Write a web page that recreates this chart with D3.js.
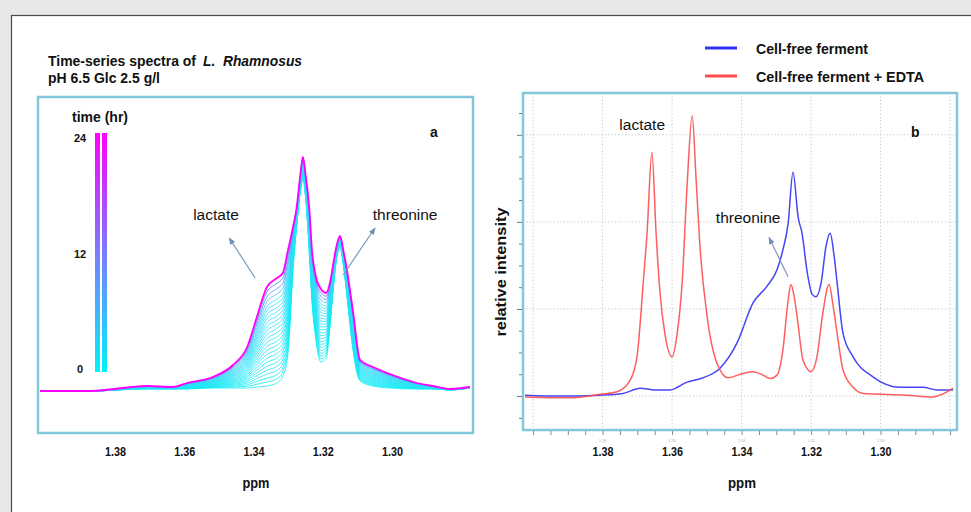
<!DOCTYPE html>
<html>
<head>
<meta charset="utf-8">
<script src="https://cdn.jsdelivr.net/npm/d3@7"></script>
<style>
    body { margin: 0; background: #e6e7e9; }
    svg { display: block; }
    text {
        font-family: "Liberation Sans", Arial, sans-serif;
        fill: #111;
    }
</style>
</head>
<body>
<svg id="chart" width="971" height="512"></svg>
<script>

// ---- panel a: time series (ppm grid shared by every time point) ----
let leftPpm = [1.4016, 1.3872, 1.3707, 1.3632, 1.3592, 1.3517, 1.3459, 1.3418,
               1.3390, 1.3361, 1.3332, 1.3315, 1.3300, 1.3285, 1.3275, 1.3265,
               1.3257, 1.3249, 1.3239, 1.3231, 1.3220, 1.3205, 1.3190, 1.3178,
               1.3170, 1.3160, 1.3150, 1.3140, 1.3130, 1.3113, 1.3092, 1.3055,
               1.3006, 1.2928, 1.2882, 1.2833, 1.2775];

// spectrum at 0 h (lowest cyan trace)
let spectrum0h = [0, 0, 0.02, 0.02, 0.02, 0.03, 0.03, 0.03,
                  0.04, 0.05, 0.08, 0.15, 0.38, 1.25, 1.65, 1.98,
                  2.12, 1.92, 1.40, 0.90, 0.52, 0.29, 0.33, 0.68,
                  1.00, 1.32, 1.44, 1.25, 0.95, 0.42, 0.10, 0.05,
                  0.03, 0.02, 0.02, 0.01, 0.03];

// spectrum at 24 h (magenta trace on top)
let spectrum24h = [0, 0, 0.05, 0.04, 0.08, 0.14, 0.26, 0.44,
                   0.74, 1.04, 1.13, 1.18, 1.41, 1.65, 1.84, 2.15,
                   2.34, 2.15, 1.84, 1.41, 1.15, 1.02, 0.98, 1.10,
                   1.26, 1.45, 1.55, 1.40, 1.21, 0.81, 0.31, 0.24,
                   0.17, 0.08, 0.05, 0.02, 0.04];

// sampling hours and how far each trace has grown from 0 h to 24 h
let hours = [0, 1, 2, 3, 4, 5, 6, 7, 8, 9, 10, 11, 12,
             13, 14, 15, 16, 17, 18, 19, 20, 21, 22, 23, 24];
let growthLevel = [0, 0.04, 0.08, 0.12, 0.16, 0.20, 0.24, 0.28, 0.32, 0.36,
                   0.40, 0.44, 0.48, 0.52, 0.56, 0.60, 0.64, 0.68, 0.72,
                   0.76, 0.80, 0.85, 0.90, 0.95, 1.00];

let leftTicks = [1.38, 1.36, 1.34, 1.32, 1.30];
let timeTicks = [0, 12, 24];

// ---- panel b: cell-free ferment with and without EDTA ----
let bluePpm = [1.4023, 1.3922, 1.3807, 1.3741, 1.3692, 1.3649, 1.3606, 1.3557,
               1.3511, 1.3462, 1.3413, 1.3367, 1.3327, 1.3298, 1.3281, 1.3266,
               1.3252, 1.3237, 1.3226, 1.3211, 1.3197, 1.3186, 1.3171, 1.3157,
               1.3145, 1.3134, 1.3125, 1.3108, 1.3079, 1.3022, 1.2944, 1.2878,
               1.2837, 1.2791];
let blueIntensity = [0.01, 0.0, 0.01, 0.03, 0.09, 0.07, 0.07, 0.16,
                     0.21, 0.32, 0.61, 1.07, 1.26, 1.45, 1.68, 1.98,
                     2.57, 2.05, 1.87, 1.42, 1.17, 1.14, 1.30, 1.72,
                     1.87, 1.62, 1.30, 0.72, 0.45, 0.22, 0.10, 0.10,
                     0.07, 0.07];

let redPpm = [1.4023, 1.3894, 1.3807, 1.3758, 1.3721, 1.3701, 1.3683, 1.3672,
              1.3658, 1.3646, 1.3635, 1.3620, 1.3600, 1.3586, 1.3571, 1.3557,
              1.3542, 1.3531, 1.3519, 1.3499, 1.3471, 1.3439, 1.3396, 1.3367,
              1.3338, 1.3318, 1.3298, 1.3281, 1.3266, 1.3258, 1.3249, 1.3240,
              1.3223, 1.3200, 1.3183, 1.3168, 1.3148, 1.3137, 1.3125, 1.3108,
              1.3079, 1.3050, 1.2924, 1.2849, 1.2791];
let redIntensity = [-0.01, -0.02, 0.02, 0.05, 0.18, 0.45, 1.30, 1.87,
                    2.80, 1.87, 1.20, 0.70, 0.45, 0.70, 1.30, 2.40,
                    3.22, 2.50, 1.68, 0.91, 0.38, 0.21, 0.26, 0.28,
                    0.24, 0.20, 0.24, 0.53, 1.10, 1.28, 1.15, 0.91,
                    0.41, 0.28, 0.45, 0.90, 1.28, 1.05, 0.72, 0.30,
                    0.10, 0.03, 0.01, -0.01, 0.09];

let rightTicks = [1.38, 1.36, 1.34, 1.32, 1.30];
let rightGridX = [1.40, 1.38, 1.36, 1.34, 1.32, 1.30, 1.28];
let rightGridY = [0, 1, 2, 3];
let rightMinorY = [-0.25, 0, 0.25, 0.5, 0.75, 1, 1.25, 1.5, 1.75, 2,
                   2.25, 2.5, 2.75, 3, 3.25];

let seriesNames = ["Cell-free ferment", "Cell-free ferment + EDTA"];
let seriesColors = ["#3232f5", "#ff4c4c"];


window.onload = function() {
    main();
};


/**
 * Draws the card, both panels and their labels.
 */
function main() {
    let svg = d3.select("#chart");

    // white card with a thin dark frame
    svg.append("rect")
       .attr("x", 11.5)
       .attr("y", 15.5)
       .attr("width", 980)
       .attr("height", 520)
       .attr("fill", "#ffffff")
       .attr("stroke", "#4a4a4a")
       .attr("stroke-width", 1.2);

    // arrow head used by the annotations
    svg.append("defs")
       .append("marker")
       .attr("id", "arrow")
       .attr("viewBox", "0 0 10 10")
       .attr("refX", 9)
       .attr("refY", 5)
       .attr("markerWidth", 6)
       .attr("markerHeight", 6)
       .attr("orient", "auto")
       .append("path")
       .attr("d", "M0,1 L10,5 L0,9 Z")
       .attr("fill", "#6f8fb8");

    makeLeftPanel(svg);
    makeRightPanel(svg);
}


/**
 * Adds a text element; a given length squeezes the bold labels like the
 * narrow font of the original.
 */
function addText(g, x, y, str, size, weight, anchor, len) {
    let t = g.append("text")
             .attr("x", x)
             .attr("y", y)
             .attr("font-size", size)
             .attr("font-weight", weight)
             .attr("text-anchor", anchor || "start")
             .text(str);
    if (len) {
        t.attr("textLength", len)
         .attr("lengthAdjust", "spacingAndGlyphs");
    }
    return t;
}


/**
 * Adds an arrow from one data point to another.
 */
function addArrow(g, x, y, from, to) {
    g.append("line")
     .attr("x1", x(from[0]))
     .attr("y1", y(from[1]))
     .attr("x2", x(to[0]))
     .attr("y2", y(to[1]))
     .attr("stroke", "#7b98bd")
     .attr("stroke-width", 1.2)
     .attr("marker-end", "url(#arrow)");
}


/**
 * Panel a: time-series spectra with a time colour bar.
 */
function makeLeftPanel(svg) {
    let box = {left: 38, right: 473, top: 97, bottom: 433};

    let x = d3.scaleLinear()
              .domain([1.4022, 1.2766])
              .range([box.left, box.right]);
    let y = d3.scaleLinear()
              .domain([-0.42, 2.94])
              .range([box.bottom, box.top]);

    // title, the species name in italics
    addText(svg, 48, 66, "Time-series spectra of", 15, "bold", "start", 148);
    addText(svg, 203, 66, "L.\u00a0\u00a0Rhamnosus", 15, "bold", "start", 99)
        .attr("font-style", "italic");
    addText(svg, 48, 83, "pH 6.5 Glc 2.5 g/l", 15, "bold", "start", 112);

    svg.append("rect")
       .attr("x", box.left)
       .attr("y", box.top)
       .attr("width", box.right - box.left)
       .attr("height", box.bottom - box.top)
       .attr("fill", "#ffffff");

    svg.append("clipPath")
       .attr("id", "clip-a")
       .append("rect")
       .attr("x", box.left)
       .attr("y", box.top)
       .attr("width", box.right - box.left)
       .attr("height", box.bottom - box.top);

    // colour of each trace: cyan for most hours, blue then magenta at the end
    let traceColor = d3.scaleLinear()
                       .domain([0, 20, 23, 24])
                       .range(["#10eef4", "#30dcf8", "#4a78ff", "#ff00ff"]);

    let line = d3.line()
                 .x(function(d) { return x(d[0]); })
                 .y(function(d) { return y(d[1]); })
                 .curve(d3.curveMonotoneX);

    let traces = hours.map(function(h, i) {
        let pts = leftPpm.map(function(p, j) {
            return [p, spectrum0h[j] + growthLevel[i] * (spectrum24h[j] - spectrum0h[j])];
        });
        return {hour: h, points: pts};
    });

    svg.append("g")
       .attr("clip-path", "url(#clip-a)")
       .selectAll("path")
       .data(traces)
       .enter()
       .append("path")
       .attr("d", function(d) { return line(d.points); })
       .attr("fill", "none")
       .attr("stroke", function(d) { return traceColor(d.hour); })
       .attr("stroke-width", function(d) { return d.hour === 24 ? 1.8 : 1; })
       .attr("opacity", function(d) { return d.hour === 24 ? 1 : 0.8; });

    // frame
    svg.append("rect")
       .attr("x", box.left)
       .attr("y", box.top)
       .attr("width", box.right - box.left)
       .attr("height", box.bottom - box.top)
       .attr("fill", "none")
       .attr("stroke", "#82c8da")
       .attr("stroke-width", 2.5);

    // time colour bar
    let t = d3.scaleLinear().domain([0, 24]).range([372, 133]);
    let tLabel = d3.scaleLinear().domain([0, 24]).range([373, 142]);
    let grad = svg.select("defs")
                  .append("linearGradient")
                  .attr("id", "time-grad")
                  .attr("x1", 0).attr("y1", 1)
                  .attr("x2", 0).attr("y2", 0);
    grad.append("stop").attr("offset", 0).attr("stop-color", "#00f2fa");
    grad.append("stop").attr("offset", 0.5).attr("stop-color", "#7a7cff");
    grad.append("stop").attr("offset", 1).attr("stop-color", "#ff00ff");

    [95, 102].forEach(function(bx) {
        svg.append("rect")
           .attr("x", bx)
           .attr("y", t(24))
           .attr("width", 5)
           .attr("height", t(0) - t(24))
           .attr("fill", "url(#time-grad)");
    });

    addText(svg, 72, 122, "time (hr)", 14, "bold", "start", 56);
    svg.selectAll(".time-tick")
       .data(timeTicks)
       .enter()
       .append("text")
       .attr("class", "time-tick")
       .attr("x", 80)
       .attr("y", tLabel)
       .attr("text-anchor", "middle")
       .attr("font-size", 11)
       .attr("font-weight", "bold")
       .text(function(d) { return d; });

    // x axis labels, no tick marks
    let axis = svg.append("g")
                  .attr("transform", "translate(0," + (box.bottom + 23) + ")")
                  .call(d3.axisBottom(x)
                          .tickValues(leftTicks)
                          .tickFormat(d3.format(".2f"))
                          .tickSize(0));
    axis.select(".domain").remove();
    axis.selectAll("text")
        .attr("y", 0)
        .attr("dy", 0)
        .attr("font-size", 12)
        .attr("font-weight", "bold")
        .attr("textLength", 21)
        .attr("lengthAdjust", "spacingAndGlyphs");

    addText(svg, 256, 488, "ppm", 14, "bold", "middle", 27);
    addText(svg, 430, 137, "a", 14, "bold");

    // annotations
    addText(svg, x(1.3508), y(1.71), "lactate", 15.5, "normal", "middle");
    addText(svg, x(1.2962), y(1.71), "threonine", 15.5, "normal", "middle");
    addArrow(svg, x, y, [1.3395, 1.13], [1.3470, 1.53]);
    addArrow(svg, x, y, [1.3141, 1.16], [1.3049, 1.63]);
}


/**
 * Panel b: cell-free ferment with and without EDTA.
 */
function makeRightPanel(svg) {
    let box = {left: 523, right: 957, top: 93, bottom: 430};

    let x = d3.scaleLinear()
              .domain([1.4029, 1.278])
              .range([box.left, box.right]);
    let y = d3.scaleLinear()
              .domain([-0.39, 3.48])
              .range([box.bottom, box.top]);

    // legend
    let legend = svg.append("g");
    let legendWidths = [112, 168];
    seriesNames.forEach(function(name, i) {
        legend.append("line")
              .attr("x1", 705)
              .attr("x2", 737)
              .attr("y1", 48 + i * 28)
              .attr("y2", 48 + i * 28)
              .attr("stroke", seriesColors[i])
              .attr("stroke-width", 3);
        addText(legend, 756, 54 + i * 28, name, 15, "bold", "start", legendWidths[i]);
    });

    // dotted grid
    let grid = svg.append("g")
                  .attr("stroke", "#c6c6c6")
                  .attr("stroke-width", 1)
                  .attr("stroke-dasharray", "1.2,2.2");
    grid.selectAll(".gx")
        .data(rightGridX)
        .enter()
        .append("line")
        .attr("x1", x).attr("x2", x)
        .attr("y1", box.top).attr("y2", box.bottom);
    grid.selectAll(".gy")
        .data(rightGridY)
        .enter()
        .append("line")
        .attr("x1", box.left).attr("x2", box.right)
        .attr("y1", y).attr("y2", y);

    svg.append("clipPath")
       .attr("id", "clip-b")
       .append("rect")
       .attr("x", box.left)
       .attr("y", box.top)
       .attr("width", box.right - box.left)
       .attr("height", box.bottom - box.top);

    let line = d3.line()
                 .x(function(d) { return x(d[0]); })
                 .y(function(d) { return y(d[1]); })
                 .curve(d3.curveMonotoneX);

    let series = [d3.zip(bluePpm, blueIntensity), d3.zip(redPpm, redIntensity)];
    svg.append("g")
       .attr("clip-path", "url(#clip-b)")
       .selectAll("path")
       .data(series)
       .enter()
       .append("path")
       .attr("d", line)
       .attr("fill", "none")
       .attr("stroke", function(d, i) { return seriesColors[i]; })
       .attr("stroke-width", 1.5)
       .attr("opacity", 0.9);

    // frame
    svg.append("rect")
       .attr("x", box.left)
       .attr("y", box.top)
       .attr("width", box.right - box.left)
       .attr("height", box.bottom - box.top)
       .attr("fill", "none")
       .attr("stroke", "#82c8da")
       .attr("stroke-width", 2.5);

    // minor x ticks every 0.005 ppm
    let minor = svg.append("g")
                   .attr("transform", "translate(0," + (box.bottom + 1) + ")")
                   .call(d3.axisBottom(x).ticks(25).tickSize(4).tickFormat(""));
    minor.select(".domain").remove();
    minor.selectAll("line").attr("stroke", "#8a8a8a");

    // major x tick labels, with the faint shrunken copies under the frame
    let major = svg.append("g")
                   .attr("transform", "translate(0," + (box.bottom + 26) + ")")
                   .call(d3.axisBottom(x)
                           .tickValues(rightTicks)
                           .tickFormat(d3.format(".2f"))
                           .tickSize(0));
    major.select(".domain").remove();
    major.selectAll("text")
         .attr("y", 0)
         .attr("dy", 0)
         .attr("font-size", 12)
         .attr("font-weight", "bold")
         .attr("textLength", 21)
         .attr("lengthAdjust", "spacingAndGlyphs");

    svg.selectAll(".faint")
       .data(rightTicks)
       .enter()
       .append("text")
       .attr("class", "faint")
       .attr("x", x)
       .attr("y", box.bottom + 12)
       .attr("text-anchor", "middle")
       .attr("font-size", 4)
       .style("fill", "#b5b5b5")
       .text(d3.format(".2f"));

    // y ticks, no labels
    let yAxis = svg.append("g")
                   .attr("transform", "translate(" + (box.left - 1) + ",0)")
                   .call(d3.axisLeft(y)
                           .tickValues(rightMinorY)
                           .tickSize(3)
                           .tickFormat(""));
    yAxis.select(".domain").remove();
    yAxis.selectAll("line")
         .attr("stroke", "#777")
         .attr("x2", function(d) { return rightGridY.indexOf(d) >= 0 ? -5 : -3; });

    addText(svg, 742, 488, "ppm", 14, "bold", "middle", 28);
    svg.append("text")
       .attr("transform", "translate(506,272) rotate(-90)")
       .attr("text-anchor", "middle")
       .attr("font-size", 15.5)
       .attr("font-weight", "bold")
       .attr("textLength", 129)
       .attr("lengthAdjust", "spacingAndGlyphs")
       .text("relative intensity");
    addText(svg, 911, 137, "b", 14, "bold");

    // annotations
    addText(svg, x(1.3686), y(3.06), "lactate", 15.5, "normal", "middle");
    addText(svg, x(1.3381), y(1.99), "threonine", 15.5, "normal", "middle");
    addArrow(svg, x, y, [1.3266, 1.37], [1.3321, 1.82]);
}

</script>
</body>
</html>
